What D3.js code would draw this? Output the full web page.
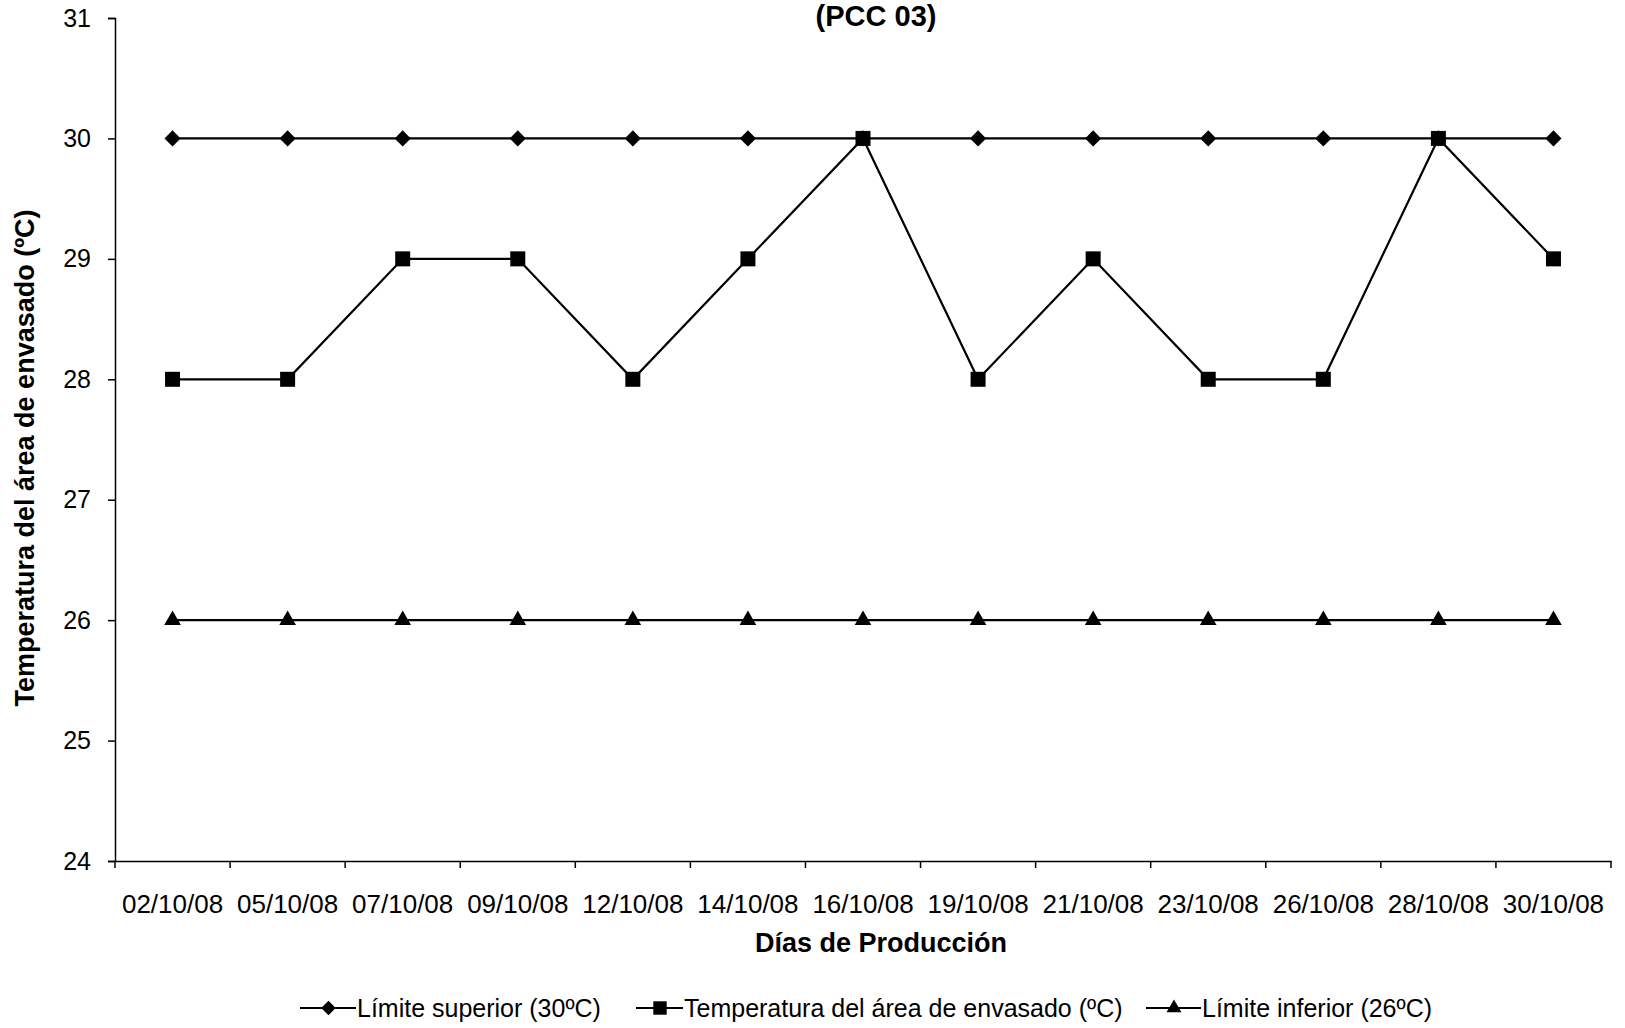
<!DOCTYPE html>
<html>
<head>
<meta charset="utf-8">
<script src="https://cdn.jsdelivr.net/npm/d3@7"></script>
<style>
  html, body { margin: 0; padding: 0; background: #fff; }
  svg { display: block; font-family: "Liberation Sans", Arial, sans-serif; }
</style>
</head>
<body>
<svg id="chart" width="1625" height="1028"></svg>
<script>
// Production days (x categories)
const dias = ["02/10/08","05/10/08","07/10/08","09/10/08","12/10/08","14/10/08","16/10/08",
              "19/10/08","21/10/08","23/10/08","26/10/08","28/10/08","30/10/08"];
// Series values (ºC)
const limiteSuperior = [30,30,30,30,30,30,30,30,30,30,30,30,30];
const temperatura    = [28,28,29,29,28,29,30,28,29,28,28,30,29];
const limiteInferior = [26,26,26,26,26,26,26,26,26,26,26,26,26];
const yTicks = [24,25,26,27,28,29,30,31];

// Rhombus marker with equal width and height
const symbolRhombus = {
  draw(ctx, size) {
    const r = Math.sqrt(size / 2);
    ctx.moveTo(0, -r); ctx.lineTo(r, 0); ctx.lineTo(0, r); ctx.lineTo(-r, 0); ctx.closePath();
  }
};

const series = [
  { name: "Límite superior (30ºC)", values: limiteSuperior, symbol: symbolRhombus, size: 130 },
  { name: "Temperatura del área de envasado (ºC)", values: temperatura, symbol: d3.symbolSquare, size: 225 },
  { name: "Límite inferior (26ºC)", values: limiteInferior, symbol: d3.symbolTriangle, size: 120 }
];

const svg = d3.select("#chart");
const plotLeft = 115, plotRight = 1611, plotTop = 18, plotBottom = 861;

const x = d3.scaleBand().domain(dias).range([plotLeft, plotRight]);
const y = d3.scaleLinear().domain([24, 31]).range([plotBottom, plotTop]);

// Title (second line)
svg.append("text")
  .attr("x", 876).attr("y", 26)
  .attr("text-anchor", "middle")
  .attr("font-weight", "bold")
  .attr("font-size", 29)
  .text("(PCC 03)");

// Y axis
const yAxis = svg.append("g")
  .attr("transform", `translate(${plotLeft},0)`)
  .call(d3.axisLeft(y).tickValues(yTicks).tickFormat(d3.format("d")).tickSize(7).tickPadding(17));
yAxis.selectAll("text").attr("font-size", 25).attr("fill", "#000").style("font-family", "Liberation Sans, Arial, sans-serif");
yAxis.selectAll("line, path").attr("stroke", "#000").attr("stroke-width", 1.5);

// X axis
const xAxis = svg.append("g")
  .attr("transform", `translate(0,${plotBottom})`)
  .call(d3.axisBottom(x).tickSize(0).tickPadding(0).tickSizeOuter(0));
xAxis.select("path").attr("stroke", "#000").attr("stroke-width", 1.5);
xAxis.selectAll(".tick line").remove();
xAxis.selectAll(".tick text")
  .attr("y", 34)
  .attr("font-size", 26).attr("fill", "#000")
  .style("font-family", "Liberation Sans, Arial, sans-serif");
// tick marks between categories
const boundaries = dias.map(d => x(d)).concat([plotRight]);
xAxis.selectAll(".bound")
  .data(boundaries)
  .join("line")
  .attr("class", "bound")
  .attr("x1", d => d).attr("x2", d => d)
  .attr("y1", 0).attr("y2", 7)
  .attr("stroke", "#000").attr("stroke-width", 1.5);

// Axis titles
svg.append("text")
  .attr("x", 881).attr("y", 952)
  .attr("text-anchor", "middle")
  .attr("font-weight", "bold")
  .attr("font-size", 27)
  .text("Días de Producción");

svg.append("text")
  .attr("transform", "translate(34,458) rotate(-90)")
  .attr("text-anchor", "middle")
  .attr("font-weight", "bold")
  .attr("font-size", 27)
  .text("Temperatura del área de envasado (ºC)");

// Lines and markers
const cx = d => x(d) + x.bandwidth() / 2;
const line = d3.line().x((v, i) => cx(dias[i])).y(v => y(v));

series.forEach(s => {
  svg.append("path")
    .attr("d", line(s.values))
    .attr("fill", "none")
    .attr("stroke", "#000")
    .attr("stroke-width", 2.2);
  svg.append("g").selectAll("path")
    .data(s.values)
    .join("path")
    .attr("transform", (v, i) => `translate(${cx(dias[i])},${y(v)})`)
    .attr("d", d3.symbol().type(s.symbol).size(s.size))
    .attr("fill", "#000");
});

// Legend
const legendItems = [
  { s: series[0], lx: 300, tx: 357 },
  { s: series[1], lx: 636, tx: 684 },
  { s: series[2], lx: 1146, tx: 1202 }
];
const ly = 1008;
legendItems.forEach(it => {
  const g = svg.append("g");
  g.append("line")
    .attr("x1", it.lx).attr("x2", it.tx - 1)
    .attr("y1", ly).attr("y2", ly)
    .attr("stroke", "#000").attr("stroke-width", 2.2);
  g.append("path")
    .attr("transform", `translate(${(it.lx + it.tx) / 2},${ly})`)
    .attr("d", d3.symbol().type(it.s.symbol).size(it.s.size * 0.8))
    .attr("fill", "#000");
  g.append("text")
    .attr("x", it.tx).attr("y", ly + 9)
    .attr("font-size", 25)
    .text(it.s.name);
});
</script>
</body>
</html>
